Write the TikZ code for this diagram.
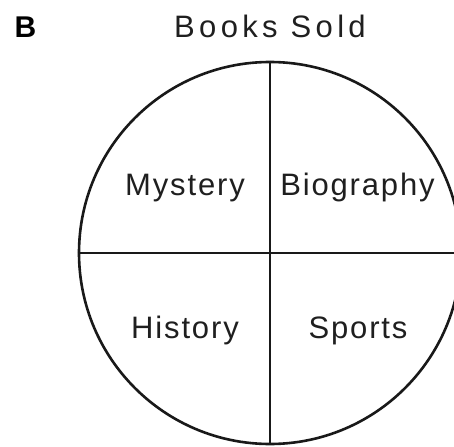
\documentclass[tikz,border=0pt]{standalone}
\usepackage{fontspec}
\setmainfont{Liberation Sans}[LetterSpace=6]
\newfontfamily\boldlabel{Liberation Sans}[LetterSpace=0]
\newfontfamily\titlefont{Liberation Sans}[LetterSpace=14]
\tikzset{
  lbl/.style={inner sep=0pt, anchor=base, font=\fontsize{31}{36}\selectfont, text=black!88},
  ring/.style={draw=black!90, line width=2.6pt, circle, minimum size=382pt, inner sep=0pt},
  divider/.style={draw=black!90, line width=2.6pt}
}
\begin{document}
\begin{tikzpicture}[x=1pt,y=-1pt]
\useasboundingbox (0,0) rectangle (454,446);
\clip (0,0) rectangle (454,446);
\node[ring] (c) at (270,253) {};
\draw[divider] (c.north) -- (c.south);
\draw[divider] (c.west) -- (c.east);
\node[inner sep=0pt, anchor=base, font=\boldlabel\bfseries\fontsize{30}{36}\selectfont] (b) at (25.5,38) {B};
\node[lbl, font=\titlefont\fontsize{31}{36}\selectfont] (t) at (270,38) {Books Sold};
\node[lbl] (m) at (185,195) {Mystery};
\node[lbl] (bio) at (357.5,195) {Biography};
\node[lbl] (h) at (185,338) {History};
\node[lbl] (s) at (358,338) {Sports};
\end{tikzpicture}
\end{document}
